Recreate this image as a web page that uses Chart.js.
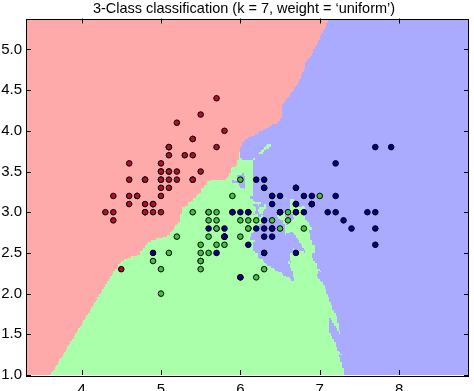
<!DOCTYPE html>
<html>
<head>
<meta charset="utf-8">
<script src="https://cdn.jsdelivr.net/npm/chart.js@4"></script>
<style>
body { margin: 0; background: #fff; }
</style>
</head>
<body>
<canvas id="chart_knn" width="474" height="391"></canvas>
<script>
var titleText = "3-Class classification (k = 7, weight = \u2018uniform\u2019)"
var classNames = ["setosa", "versicolor", "virginica"]
var k = 7
var meshStep = 0.02
var xRange = [3.3, 8.88]
var yRange = [1.0, 5.38]
var xTicks = [4, 5, 6, 7, 8]
var yTicks = [1.0, 1.5, 2.0, 2.5, 3.0, 3.5, 4.0, 4.5, 5.0]

// sepal length, sepal width
var setosa = [[5.1,3.5],[4.9,3.0],[4.7,3.2],[4.6,3.1],[5.0,3.6],[5.4,3.9],[4.6,3.4],[5.0,3.4],[4.4,2.9],[4.9,3.1],
	[5.4,3.7],[4.8,3.4],[4.8,3.0],[4.3,3.0],[5.8,4.0],[5.7,4.4],[5.4,3.9],[5.1,3.5],[5.7,3.8],[5.1,3.8],
	[5.4,3.4],[5.1,3.7],[4.6,3.6],[5.1,3.3],[4.8,3.4],[5.0,3.0],[5.0,3.4],[5.2,3.5],[5.2,3.4],[4.7,3.2],
	[4.8,3.1],[5.4,3.4],[5.2,4.1],[5.5,4.2],[4.9,3.1],[5.0,3.2],[5.5,3.5],[4.9,3.1],[4.4,3.0],[5.1,3.4],
	[5.0,3.5],[4.5,2.3],[4.4,3.2],[5.0,3.5],[5.1,3.8],[4.8,3.0],[5.1,3.8],[4.6,3.2],[5.3,3.7],[5.0,3.3]]
var versicolor = [[7.0,3.2],[6.4,3.2],[6.9,3.1],[5.5,2.3],[6.5,2.8],[5.7,2.8],[6.3,3.3],[4.9,2.4],[6.6,2.9],[5.2,2.7],
	[5.0,2.0],[5.9,3.0],[6.0,2.2],[6.1,2.9],[5.6,2.9],[6.7,3.1],[5.6,3.0],[5.8,2.7],[6.2,2.2],[5.6,2.5],
	[5.9,3.2],[6.1,2.8],[6.3,2.5],[6.1,2.8],[6.4,2.9],[6.6,3.0],[6.8,2.8],[6.7,3.0],[6.0,2.9],[5.7,2.6],
	[5.5,2.4],[5.5,2.4],[5.8,2.7],[6.0,2.7],[5.4,3.0],[6.0,3.4],[6.7,3.1],[6.3,2.3],[5.6,3.0],[5.5,2.5],
	[5.5,2.6],[6.1,3.0],[5.8,2.6],[5.0,2.3],[5.6,2.7],[5.7,3.0],[5.7,2.9],[6.2,2.9],[5.1,2.5],[5.7,2.8]]
var virginica = [[6.3,3.3],[5.8,2.7],[7.1,3.0],[6.3,2.9],[6.5,3.0],[7.6,3.0],[4.9,2.5],[7.3,2.9],[6.7,2.5],[7.2,3.6],
	[6.5,3.2],[6.4,2.7],[6.8,3.0],[5.7,2.5],[5.8,2.8],[6.4,3.2],[6.5,3.0],[7.7,3.8],[7.7,2.6],[6.0,2.2],
	[6.9,3.2],[5.6,2.8],[7.7,2.8],[6.3,2.7],[6.7,3.3],[7.2,3.2],[6.2,2.8],[6.1,3.0],[6.4,2.8],[7.2,3.0],
	[7.4,2.8],[7.9,3.8],[6.4,2.8],[6.3,2.8],[6.1,2.6],[7.7,3.0],[6.3,3.4],[6.4,3.1],[6.0,3.0],[6.9,3.1],
	[6.7,3.1],[6.9,3.1],[5.8,2.7],[6.8,3.2],[6.7,3.3],[6.7,3.0],[6.3,2.5],[6.5,3.0],[6.2,3.4],[5.9,3.0]]

var lightColors = ["#FFAAAA", "#AAFFAA", "#AAAAFF"]
var boldColors = ["#b0102a", "#3cc43c", "#00008c"]
var fontFamily = '"Liberation Sans", Arial, sans-serif'

var training = []
;[setosa, versicolor, virginica].forEach(function(pts, c){
	pts.forEach(function(p){ training.push([p[0], p[1], c]) })
})

// k nearest neighbours vote, ties go to the lowest class like scipy mode
function predict(x, y){
	var d = training.map(function(t, i){
		var dx = t[0]-x, dy = t[1]-y
		return [dx*dx+dy*dy, i]
	})
	d.sort(function(a, b){ return a[0]-b[0] || a[1]-b[1] })
	var votes = [0, 0, 0]
	for (var i = 0; i < k; i++) votes[training[d[i][1]][2]]++
	var best = 0
	for (var c = 1; c < 3; c++) if (votes[c] > votes[best]) best = c
	return best
}

var mesh = null
function buildMesh(){
	var nx = Math.round((xRange[1]-xRange[0])/meshStep)
	var ny = Math.round((yRange[1]-yRange[0])/meshStep)
	mesh = []
	for (var j = 0; j < ny; j++){
		var row = []
		for (var i = 0; i < nx; i++){
			row.push(predict(xRange[0]+i*meshStep, yRange[0]+j*meshStep))
		}
		mesh.push(row)
	}
}

var regionPlugin = {
	id: "regions",
	beforeDatasetsDraw: function(chart){
		if (!mesh) buildMesh()
		var ctx = chart.ctx, xs = chart.scales.x, ys = chart.scales.y, a = chart.chartArea
		ctx.save()
		ctx.beginPath()
		ctx.rect(a.left, a.top, a.right-a.left, a.bottom-a.top)
		ctx.clip()
		for (var j = 0; j < mesh.length; j++){
			var y0 = Math.round(ys.getPixelForValue(yRange[0]+(j+1)*meshStep))
			var y1 = Math.round(ys.getPixelForValue(yRange[0]+j*meshStep))
			var row = mesh[j], i = 0
			while (i < row.length){
				var c = row[i], s = i
				while (i < row.length && row[i] === c) i++
				var x0 = Math.round(xs.getPixelForValue(xRange[0]+s*meshStep))
				var x1 = Math.round(xs.getPixelForValue(xRange[0]+i*meshStep))
				ctx.fillStyle = lightColors[c]
				ctx.fillRect(x0, y0, x1-x0, y1-y0)
			}
		}
		ctx.restore()
	},
	afterDatasetsDraw: function(chart){
		var ctx = chart.ctx, xs = chart.scales.x, ys = chart.scales.y, a = chart.chartArea
		var tl = 5
		ctx.save()
		ctx.strokeStyle = "#000"
		ctx.lineWidth = 1
		ctx.beginPath()
		xTicks.forEach(function(v){
			var px = Math.round(xs.getPixelForValue(v))+0.5
			ctx.moveTo(px, a.bottom); ctx.lineTo(px, a.bottom-tl)
			ctx.moveTo(px, a.top); ctx.lineTo(px, a.top+tl)
		})
		yTicks.forEach(function(v){
			var py = Math.round(ys.getPixelForValue(v))+0.5
			ctx.moveTo(a.left, py); ctx.lineTo(a.left+tl, py)
			ctx.moveTo(a.right, py); ctx.lineTo(a.right-tl, py)
		})
		ctx.stroke()
		ctx.strokeRect(Math.round(a.left)+0.5, Math.round(a.top)+0.5, Math.round(a.right-a.left)-1, Math.round(a.bottom-a.top))
		ctx.restore()
	},
	afterDraw: function(chart){
		var ctx = chart.ctx
		ctx.save()
		ctx.fillStyle = "#000"
		ctx.font = "14.5px " + fontFamily
		ctx.textAlign = "center"
		ctx.textBaseline = "middle"
		ctx.fillText(titleText, 244, 9)
		ctx.restore()
	}
}

var datasets = [setosa, versicolor, virginica].map(function(pts, c){
	return {
		label: classNames[c],
		data: pts.map(function(p){ return {x: p[0], y: p[1]} }),
		backgroundColor: boldColors[c],
		borderColor: "#000",
		borderWidth: 1,
		pointRadius: 2.8,
		order: 3-c
	}
})

var ctx = document.getElementById("chart_knn");
var myChart = new Chart(ctx, {
	type: 'scatter',
	data: { datasets: datasets },
	plugins: [regionPlugin],
	options: {
		responsive: false,
		devicePixelRatio: 1,
		animation: false,
		layout: { padding: { top: 18.5, right: 1.5, left: 0, bottom: 0 } },
		plugins: { legend: { display: false }, tooltip: { enabled: false }, title: { display: false } },
		scales: {
			x: {
				type: 'linear', min: xRange[0], max: xRange[1],
				grid: { display: false, drawTicks: false }, border: { display: false },
				afterBuildTicks: function(s){ s.ticks = xTicks.map(function(v){ return {value: v} }) },
				afterFit: function(s){ s.height = 16 },
				ticks: { color: '#000', padding: 6, autoSkip: false, maxRotation: 0,
					font: { family: fontFamily, size: 15 },
					callback: function(v){ return String(v) } }
			},
			y: {
				type: 'linear', min: yRange[0], max: yRange[1],
				grid: { display: false, drawTicks: false }, border: { display: false },
				afterBuildTicks: function(s){ s.ticks = yTicks.map(function(v){ return {value: v} }) },
				afterFit: function(s){ s.width = 26 },
				ticks: { color: '#000', padding: 4, autoSkip: false,
					font: { family: fontFamily, size: 15 },
					callback: function(v){ return v.toFixed(1) } }
			}
		}
	}
});
</script>
</body>
</html>
